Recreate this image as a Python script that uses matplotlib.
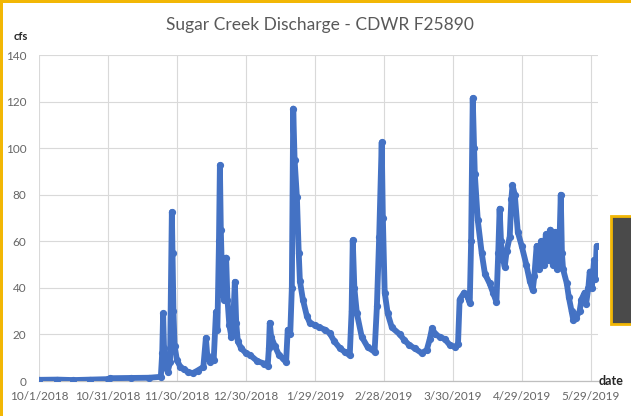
import matplotlib
matplotlib.use("Agg")
import matplotlib.pyplot as plt
import matplotlib.patches as mpatches
import pandas as pd
import numpy as np

# ---- data ----
start_date = "2018-10-01"
day_offsets = [
    0, 8, 15, 22, 30, 31, 40, 48, 53, 53.6, 54.0, 54.4, 55.0, 56.0, 57.0, 57.8, 58.1, 58.5, 59.0, 60.0,
    61.5, 63.0, 65.0, 67.0, 69.0, 71.5, 72.6, 73.2, 74.5, 76.0, 77.0, 77.6, 78.3, 78.7, 79.1, 79.7,
    80.5, 81.4, 82.0, 82.8, 83.7, 84.6, 85.2, 85.8, 86.5, 88.0, 90.0, 92.0, 95.0, 98.0, 99.5, 100.0,
    100.4, 101.0, 102.6, 104.5, 106.0, 107.5, 108.2, 109.3, 110.0, 110.6, 111.2, 112.2, 113.0, 113.5,
    114.8, 116.5, 117.8, 120.0, 122.0, 124.5, 126.5, 128.5, 131.0, 133.0, 135.2, 136.0, 136.5, 137.2,
    138.3, 140.4, 143.0, 146.0, 147.0, 148.0, 149.1, 149.6, 150.4, 151.7, 153.5, 157.0, 159.0, 161.0,
    163.5, 166.5, 168.7, 170.0, 171.0, 172.5, 174.3, 176.5, 178.7, 181.0, 182.3, 183.0, 185.0, 186.5,
    187.4, 188.0, 188.7, 189.3, 189.6, 190.9, 192.6, 194.0, 196.0, 197.5, 199.0, 199.8, 200.4, 201.0,
    201.3, 202.6, 203.5, 204.8, 205.5, 206.0, 207.0, 208.3, 210.0, 212.0, 213.5, 214.8, 215.5, 216.5,
    217.5, 218.5, 219.5, 220.5, 221.5, 222.5, 223.5, 224.5, 225.5, 226.3, 227.0, 227.5, 228.0, 229.6,
    230.5, 231.7, 232.5, 233.5, 235.2, 236.0, 237.4, 238.0, 239.0, 239.6, 240.5, 241.5, 242.0, 242.6,
]
discharge_cfs = [
    0.5, 0.6, 0.4, 0.6, 0.8, 1.2, 1.3, 1.4, 1.8, 12, 29, 14, 6, 4, 8, 72.6, 55, 30, 15, 9,
    6, 5, 3.8, 3.4, 4.5, 6, 18.5, 11, 8, 9, 29.7, 22, 60, 92.7, 65, 42,
    35, 53, 35, 24, 19, 28, 42.6, 25, 17, 14, 12, 11, 8.5, 7.5, 6.5, 14,
    25, 19, 15, 11, 9.8, 8, 22, 20, 40, 117, 95, 79, 55, 43,
    35, 28, 25, 24, 23, 22, 20.5, 17, 14, 12.5, 11, 30, 60.5, 40,
    29, 19, 14.5, 12.5, 32, 62, 102.5, 70, 38, 29, 23, 20, 17.5, 15.5,
    14, 12, 13.3, 18, 22.7, 20, 19, 18, 15.5, 14.6, 16, 35, 38, 36,
    33.5, 60, 121.5, 100, 89, 69, 55, 46, 42, 38, 34, 55, 74, 60,
    55, 49, 56, 62, 78, 84, 80, 64, 58, 50, 43, 39, 45, 58,
    48, 60, 50, 63, 52, 65, 50, 64, 48, 55, 80, 55, 48, 42,
    36, 30, 26, 27, 30, 35, 38, 33, 40, 47, 40, 52, 44, 58,
]
tick_labels = ["10/1/2018", "10/31/2018", "11/30/2018", "12/30/2018", "1/29/2019",
               "2/28/2019", "3/30/2019", "4/29/2019", "5/29/2019"]
y_ticks = [0, 20, 40, 60, 80, 100, 120, 140]

title_text = "Sugar Creek Discharge - CDWR F25890"

# ---- figure ----
plt.rcParams['font.family'] = ['Lato', 'DejaVu Sans']
W, H = 631, 416
fig = plt.figure(figsize=(W / 100, H / 100), dpi=100)
fig.patch.set_facecolor("white")

ax = fig.add_axes([39 / W, 1 - 381 / H, (598 - 39) / W, (381 - 55) / H])

t0 = pd.Timestamp(start_date)
dates = t0 + pd.to_timedelta(day_offsets, unit="D")
blue = "#4472C4"
ax.plot(dates, discharge_cfs, color=blue, lw=4.2, solid_joinstyle="round",
        solid_capstyle="round", marker="o", ms=4.2, mec=blue, mfc=blue,
        zorder=3, clip_on=True)

tick_dates = [t0 + pd.Timedelta(days=30 * i) for i in range(len(tick_labels))]
ax.set_xticks(tick_dates)
ax.set_xticklabels(tick_labels)
ax.set_xlim(t0, t0 + pd.Timedelta(days=243.2))
ax.set_ylim(0, 140)
ax.set_yticks(y_ticks)
ax.set_yticklabels([str(v) for v in y_ticks])

ax.grid(True, color="#d9d9d9", lw=0.8, zorder=0)
ax.set_axisbelow(True)
for s in ["top", "right", "left"]:
    ax.spines[s].set_visible(False)
ax.spines["bottom"].set_color("#bfbfbf")
ax.spines["bottom"].set_linewidth(0.9)
ax.tick_params(axis="both", length=0, colors="#666666", labelsize=8.5)
ax.tick_params(axis="y", pad=9)
ax.tick_params(axis="x", pad=7)

fig.text(320 / W, 1 - 25 / H, title_text, ha="center", va="center",
         fontsize=12.5, color="#595959")
fig.text(21 / W, 1 - 37 / H, "cfs", ha="center", va="center", fontsize=8,
         fontweight="bold", color="#262626")
fig.text(611 / W, 1 - 381 / H, "date", ha="center", va="center", fontsize=9,
         fontweight="bold", color="#262626")

# frame decorations
yellow = "#F2B705"
fig.patches.append(mpatches.Rectangle((0, 1 - 3 / H), 1, 3 / H, transform=fig.transFigure,
                                      facecolor=yellow, edgecolor="none", zorder=10))
fig.patches.append(mpatches.Rectangle((0, 0), 3 / W, 1, transform=fig.transFigure,
                                      facecolor=yellow, edgecolor="none", zorder=10))
fig.patches.append(mpatches.Rectangle((611 / W, 1 - 324 / H), 22 / W, 108 / H,
                                      transform=fig.transFigure, facecolor="#4a4a4a",
                                      edgecolor=yellow, lw=2, zorder=10))

fig.savefig("out.png", dpi=100, facecolor="white")
